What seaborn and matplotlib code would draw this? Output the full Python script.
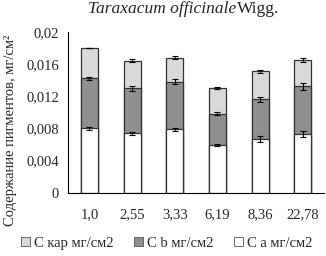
import numpy as np
import pandas as pd
import matplotlib
matplotlib.use("Agg")
import matplotlib.pyplot as plt
from matplotlib.patches import Patch
import seaborn as sns

# Данные
categories = ['1,0', '2,55', '3,33', '6,19', '8,36', '22,78']
c_a = [0.0080, 0.0074, 0.0079, 0.0059, 0.0067, 0.0073]
c_b = [0.0062, 0.0056, 0.0059, 0.0039, 0.0049, 0.0059]
c_kar = [0.0038, 0.0034, 0.0030, 0.0032, 0.0035, 0.0033]
err_a = [0.0002, 0.0002, 0.0002, 0.0001, 0.0004, 0.0004]
err_b = [0.0002, 0.0003, 0.0003, 0.0002, 0.0003, 0.0004]
err_kar = [0.0, 0.0002, 0.0002, 0.0001, 0.0002, 0.0002]
ytick_vals = [0, 0.004, 0.008, 0.012, 0.016, 0.02]
ytick_labels = ['0', '0,004', '0,008', '0,012', '0,016', '0,02']
legend_labels = ['С кар мг/см2', 'С b мг/см2', 'С а мг/см2']

sns.set_style('white')
plt.rcParams['font.family'] = ['Liberation Serif', 'DejaVu Serif']

df = pd.DataFrame({'cat': categories, 'a': c_a, 'b': c_b, 'kar': c_kar})
df['ab'] = df['a'] + df['b']
df['total'] = df['ab'] + df['kar']

col_kar = '#d9d9d9'
col_b = '#8f8f8f'
col_a = '#ffffff'
edge = '#333333'

fig = plt.figure(figsize=(3.26, 2.56), dpi=100)
ax = fig.add_axes([0.209, 0.247, 0.785, 0.629])

sns.barplot(data=df, x='cat', y='total', order=categories, color=col_kar,
            edgecolor=edge, linewidth=0.9, width=0.4, saturation=1, ax=ax)
sns.barplot(data=df, x='cat', y='ab', order=categories, color=col_b,
            edgecolor=edge, linewidth=0.9, width=0.4, saturation=1, ax=ax)
sns.barplot(data=df, x='cat', y='a', order=categories, color=col_a,
            edgecolor=edge, linewidth=0.9, width=0.4, saturation=1, ax=ax)

pos = np.arange(len(categories))
for top, err in [(df['a'], err_a), (df['ab'], err_b), (df['total'], err_kar)]:
    ax.errorbar(pos, top, yerr=err, fmt='none', ecolor='black',
                elinewidth=0.8, capsize=2.5, capthick=0.8)

ax.set_xlim(-0.5, len(categories) - 0.5)
ax.set_ylim(0, 0.02)
ax.set_yticks(ytick_vals)
ax.set_yticklabels(ytick_labels, fontsize=10.5)
ax.set_xticks(pos)
ax.set_xticklabels(categories, fontsize=10.5)
ax.set_xticks(np.arange(-0.5, len(categories), 1), minor=True)
ax.tick_params(axis='x', which='major', length=0, pad=11)
ax.tick_params(axis='x', which='minor', direction='in', length=3, width=0.8, color='black')
ax.tick_params(axis='y', direction='inout', length=5, width=0.8, color='black', pad=4)
ax.set_xlabel('')
ax.set_ylabel('')
for s in ['top', 'right']:
    ax.spines[s].set_visible(False)
for s in ['left', 'bottom']:
    ax.spines[s].set_color('black')
    ax.spines[s].set_linewidth(0.8)

fig.text(0.032, 0.49, 'Содержание пигментов, мг/см²', rotation=90,
         ha='center', va='center', fontsize=10.5)
fig.text(0.724, 0.965, 'Taraxacum officinale', style='italic',
         ha='right', va='center', fontsize=12.5)
fig.text(0.728, 0.965, 'Wigg.', ha='left', va='center', fontsize=12.5)

handles = [Patch(facecolor=c, edgecolor='#555555', linewidth=0.6)
           for c in [col_kar, col_b, col_a]]
fig.legend(handles, legend_labels, loc='center', bbox_to_anchor=(0.512, 0.05),
           ncol=3, frameon=False, fontsize=10.5, handlelength=0.6, handleheight=0.6,
           handletextpad=0.3, columnspacing=1.4)

fig.savefig('out.png', dpi=100)
